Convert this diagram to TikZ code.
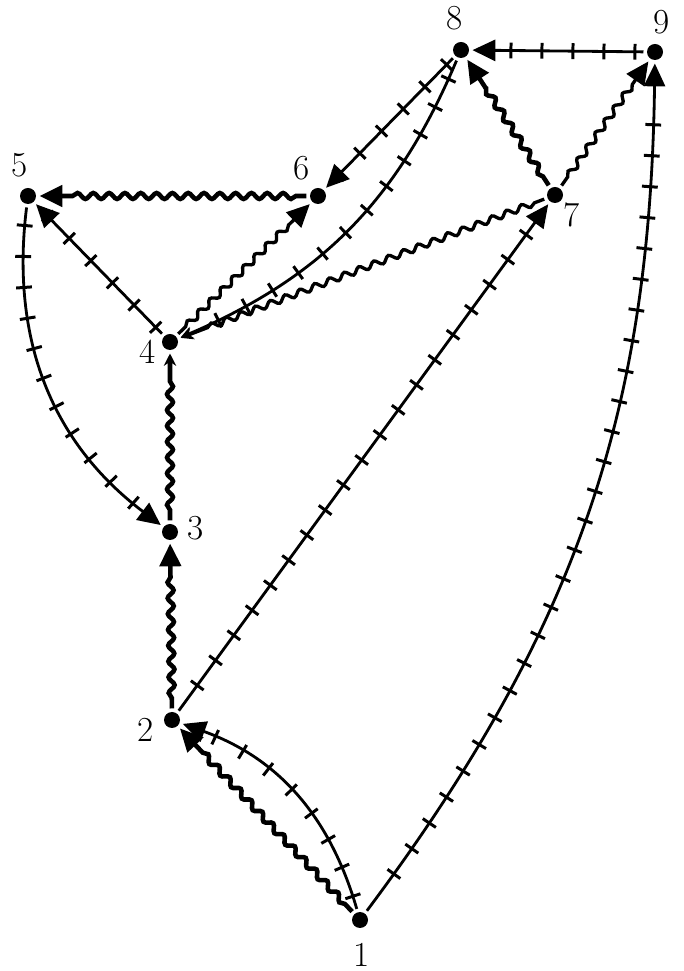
\documentclass[tikz,border=0pt]{standalone}
\usepackage{tikz}
\usetikzlibrary{arrows.meta,decorations.pathmorphing,decorations.markings}

\begin{document}
\begin{tikzpicture}[
  vertex/.style={circle, fill, inner sep=0pt, minimum size=3.2mm, outer sep=2pt},
  num/.style={font=\fontsize{20}{22}\selectfont, inner sep=1pt},
  ticked/.style={line width=1.6pt, postaction={decorate, decoration={markings,
      mark=between positions 0.05 and 0.95 step 0.62cm with {\draw[-, line width=1.7pt] (0,-4.5pt) -- (0,4.5pt);}}}},
  wavy/.style={line width=2.6pt, decorate, decoration={snake, amplitude=1.7pt, segment length=9pt, pre length=6pt, post length=15pt}},
  arrow/.style={-{Triangle[length=13pt, width=12pt]}},
  thin arrow/.style={-{Stealth[length=7pt, width=7pt]}}
]
\useasboundingbox (0,0) rectangle (13.68,19.42);

\node[vertex] (n1) at (7.20,1.02) {};
\node[vertex] (n2) at (3.44,5.02) {};
\node[vertex] (n3) at (3.40,8.78) {};
\node[vertex] (n4) at (3.40,12.58) {};
\node[vertex] (n5) at (0.56,15.50) {};
\node[vertex] (n6) at (6.36,15.50) {};
\node[vertex] (n7) at (11.10,15.52) {};
\node[vertex] (n8) at (9.22,18.42) {};
\node[vertex] (n9) at (13.10,18.38) {};

\node[num] (l1) at (7.24,0.32) {1};
\node[num] (l2) at (2.92,4.82) {2};
\node[num] (l3) at (3.92,8.86) {3};
\node[num] (l4) at (2.96,12.38) {4};
\node[num] (l5) at (0.40,16.12) {5};
\node[num] (l6) at (6.04,16.06) {6};
\node[num] (l7) at (11.44,15.12) {7};
\node[num] (l8) at (9.10,19.06) {8};
\node[num] (l9) at (13.24,18.98) {9};

% ticked edges
\draw[ticked, arrow] (n9) -- (n8);
\draw[ticked, arrow] (n1) to[bend right=18] (n9);
\draw[ticked, arrow] (n1) to[bend right=27] (n2);
\draw[ticked, arrow] (n2) -- (n7);
\draw[ticked, arrow] (n5) to[bend right=30] (n3);
\draw[ticked, arrow] (n4) -- (n5);
\draw[ticked, arrow] (n8) -- (n6);
\draw[ticked, thin arrow] (n8) to[bend left=22] (n4);

% wavy edges
\draw[wavy, arrow] (n7) -- (n8);
\draw[wavy, arrow, line width=1.9pt] (n7) -- (n9);
\draw[wavy, arrow] (n1) -- (n2);
\draw[wavy, arrow] (n2) -- (n3);
\draw[wavy, thin arrow] (n3) -- (n4);
\draw[wavy, arrow] (n6) -- (n5);
\draw[wavy, arrow, line width=1.9pt] (n4) -- (n6);
\draw[wavy, thin arrow, line width=1.9pt] (n7) -- (n4);
\end{tikzpicture}
\end{document}
